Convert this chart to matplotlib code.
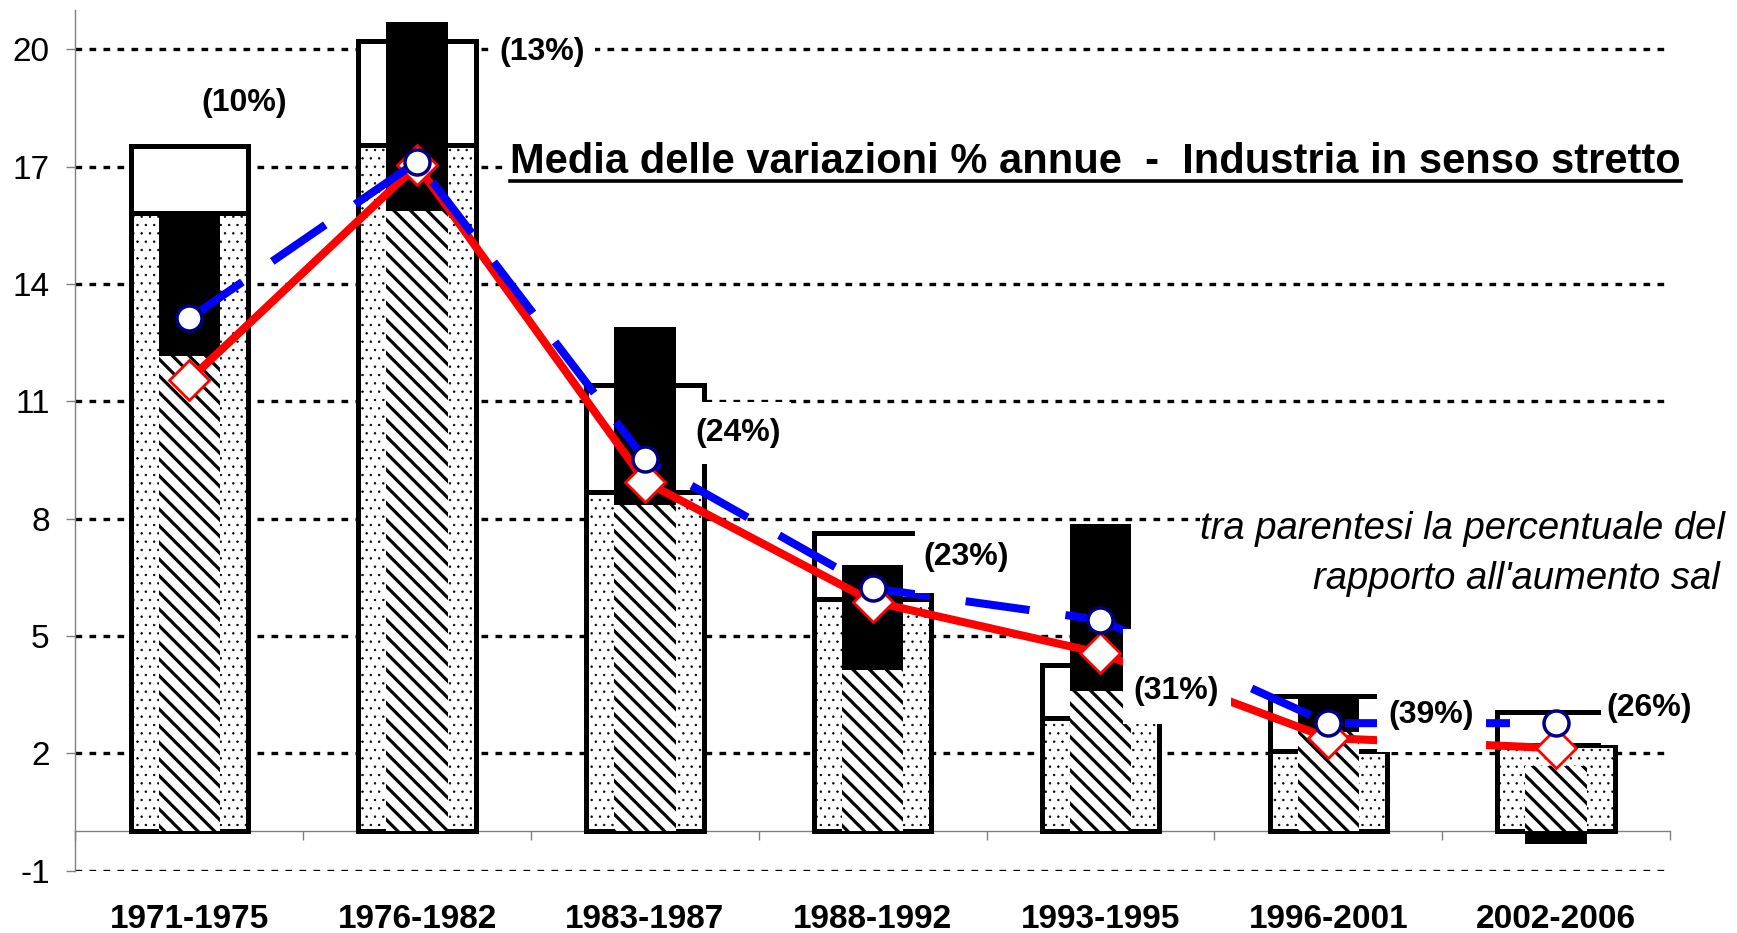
import numpy as np
import matplotlib
matplotlib.use("Agg")
import matplotlib.pyplot as plt
from matplotlib.path import Path
from matplotlib.lines import Line2D

periods = ["1971-1975", "1976-1982", "1983-1987", "1988-1992",
           "1993-1995", "1996-2001", "2002-2006"]

# wide bars: dotted part, then white part up to the top
dotted = [15.81, 17.56, 8.67, 5.94, 2.90, 2.07, 2.21]
outer_top = [17.52, 20.22, 11.42, 7.63, 4.27, 3.47, 3.06]

# narrow bars: hatched part, then black part (negative = below zero)
hatched = [12.16, 15.88, 8.35, 4.12, 3.60, 2.55, 1.68]
black = [3.64, 4.81, 4.55, 2.70, 4.26, 0.86, -0.32]

blue_line = [13.12, 17.13, 9.52, 6.22, 5.41, 2.77, 2.77]
red_line = [11.55, 17.04, 8.95, 5.88, 4.56, 2.39, 2.13]

shares = ["(10%)", "(13%)", "(24%)", "(23%)", "(31%)", "(39%)", "(26%)"]
share_pos = [(0.24, 18.63), (1.55, 19.94), (2.41, 10.19), (3.41, 7.02),
             (4.33, 3.58), (5.45, 2.98), (6.41, 3.16)]
# white box padding around each label (left, right, bottom, top), in font sizes
share_pad = [(0.3, 0.3, 0.3, 0.3), (0.3, 0.3, 0.3, 0.3), (0.3, 0.3, 0.5, 0.5),
             (0.27, 0.3, 0.65, 0.45), (0.3, 0.38, 0.55, 1.5), (0.33, 0.4, 0.68, 0.4),
             (0.18, 0.3, 0.7, 0.45)]

yticks = [-1, 2, 5, 8, 11, 14, 17, 20]

plt.rcParams["font.family"] = ["Liberation Sans", "DejaVu Sans"]
plt.rcParams["hatch.color"] = "black"


def pad_box(left, right, bottom, top):
    def box(x0, y0, width, height, mutation_size):
        xa = x0 - left * mutation_size
        xb = x0 + width + right * mutation_size
        ya = y0 - bottom * mutation_size
        yb = y0 + height + top * mutation_size
        return Path([(xa, ya), (xb, ya), (xb, yb), (xa, yb), (xa, ya)], closed=True)
    return box


def set_hatch_lw(bars, lw):
    for p in bars:
        if hasattr(p, "set_hatch_linewidth"):
            p.set_hatch_linewidth(lw)


W, H = 1737, 933
fig = plt.figure(figsize=(W / 100, H / 100), dpi=100)
ax = fig.add_axes([0.0434, 0.0669, 0.918, 0.922])

# spines first: moving a spine resets the ticks
for s in ["top", "right"]:
    ax.spines[s].set_visible(False)
ax.spines["left"].set_color("#808080")
ax.spines["left"].set_linewidth(1)
ax.spines["bottom"].set_position(("data", 0))
ax.spines["bottom"].set_color("#808080")
ax.spines["bottom"].set_linewidth(1)
ax.spines["bottom"].set_zorder(1)

x = np.arange(len(periods))
dotted_arr = np.array(dotted)
white_part = np.array(outer_top) - dotted_arr
black_arr = np.array(black)
black_bottom = np.where(black_arr > 0, np.array(hatched), 0)

with plt.rc_context({"hatch.linewidth": 0.5}):
    b1 = ax.bar(x, dotted_arr, width=0.515, color="white", edgecolor="black",
                linewidth=3.6, hatch="..", zorder=2)
set_hatch_lw(b1, 0.5)
ax.bar(x, white_part, bottom=dotted_arr, width=0.515, color="white",
       edgecolor="black", linewidth=3.6, zorder=2)

with plt.rc_context({"hatch.linewidth": 2.3}):
    b2 = ax.bar(x, hatched, width=0.27, color="white", edgecolor="black",
                linewidth=0, hatch="\\\\", zorder=3)
set_hatch_lw(b2, 2.3)
ax.bar(x, black_arr, bottom=black_bottom, width=0.27, color="black",
       linewidth=0, zorder=3)

ax.plot(x, red_line, color="#ff0000", lw=5.8, marker="D", ms=20,
        mfc="white", mec="#ff0000", mew=2, zorder=4)
ax.plot(x, blue_line, color="#0000ff", lw=5.8, ls=(0, (8, 4.5)), marker="o",
        ms=18, mfc="white", mec="#000080", mew=2.5, zorder=5)

for txt, (px, py), pad in zip(shares, share_pos, share_pad):
    ax.text(px, py, txt, ha="center", va="center", fontsize=23,
            fontweight="bold", zorder=6,
            bbox=dict(boxstyle=pad_box(*pad), fc="white", ec="none"))

ax.set_xlim(-0.5, 6.5)
ax.set_ylim(-1, 21)
ax.tick_params(axis="x", which="major", length=0, pad=52, labelsize=24)
ax.tick_params(axis="x", which="minor", length=6.5, width=1, color="#808080",
               direction="out")
ax.tick_params(axis="y", length=6.5, width=1, color="#808080", pad=12,
               labelsize=24)
ax.set_yticks(yticks)
ax.set_yticklabels([str(v) for v in yticks])
ax.set_xticks(np.arange(-0.5, 7, 1), minor=True)
ax.set_xticks(x)
ax.set_xticklabels(periods, fontsize=24, fontweight="bold")

ax.grid(axis="y", color="black", lw=2.4, ls=(0, (2, 2.2)))
ax.set_axisbelow(True)

title = fig.text(510 / W, 1 - 172.7 / H,
                 "Media delle variazioni % annue  -  Industria in senso stretto",
                 ha="left", va="baseline", fontsize=30, fontweight="bold",
                 zorder=6,
                 bbox=dict(boxstyle=pad_box(0.15, 0.2, 0.15, 0.1), fc="white", ec="none"))

fig.text(1199.5 / W, 1 - 539.3 / H, "tra parentesi la percentuale del",
         ha="left", va="baseline", fontsize=27.5, style="italic", zorder=6,
         bbox=dict(boxstyle=pad_box(0.0, 1.0, 0.0, 0.2), fc="white", ec="none"))
fig.text(1313 / W, 1 - 589.3 / H, "rapporto all'aumento sal",
         ha="left", va="baseline", fontsize=27.5, style="italic", zorder=6,
         bbox=dict(boxstyle=pad_box(2.2, 1.0, 1.15, 0.0), fc="white", ec="none"))

fig.canvas.draw()
bb = title.get_window_extent()
fig.add_artist(Line2D([bb.x0 / W, bb.x1 / W], [1 - 181 / H, 1 - 181 / H],
                      transform=fig.transFigure, color="black", lw=2.6,
                      zorder=7))

fig.savefig("out.png", dpi=100)
